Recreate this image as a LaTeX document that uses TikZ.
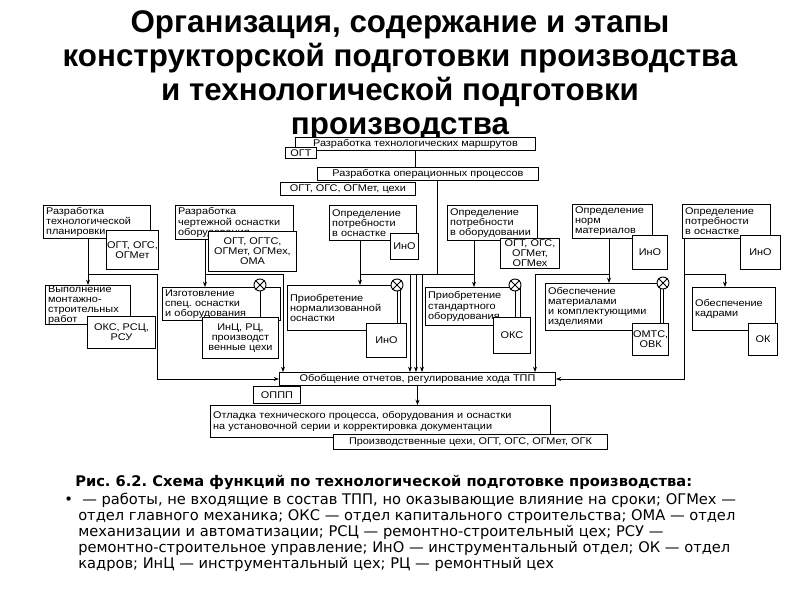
\documentclass[tikz,border=0pt]{standalone}
\usepackage{fontspec}
\setmainfont{Liberation Sans}
\newfontfamily\diagfont[FakeStretch=1.12]{Liberation Sans}
\newfontfamily\captfont{DejaVu Sans}
\usepackage{tikz}
\usetikzlibrary{arrows.meta, calc}
\frenchspacing

\begin{document}
\begin{tikzpicture}[
  x=0.75pt, y=-0.75pt,
  funcbox/.style={draw, fill=white, line width=0.7pt, anchor=north west, inner xsep=2pt, inner ysep=0pt, align=left, font=\diagfont\fontsize{7.3}{7.6}\selectfont},
  deptbox/.style={draw, fill=white, line width=0.7pt, anchor=north west, inner sep=0.5pt, align=center, font=\diagfont\fontsize{7.3}{7.6}\selectfont},
  mixcirc/.style={draw, circle, fill=white, line width=0.7pt, minimum size=9pt, inner sep=0pt},
  titleline/.style={font=\bfseries\fontsize{23.5}{25.5}\selectfont, anchor=base, inner sep=0pt},
  captline/.style={font=\captfont\fontsize{11}{12}\selectfont, inner sep=0pt},
  link/.style={line width=0.7pt},
  arr/.style={line width=0.7pt, -{Stealth[length=4pt, width=3pt]}},
]
\useasboundingbox (0,0) rectangle (800,600);

% Заголовок
\node[titleline] (t1) at (400,32) {Организация, содержание и этапы};
\node[titleline] (t2) at (400,66) {конструкторской подготовки производства};
\node[titleline] (t3) at (400,100) {и технологической подготовки};
\node[titleline] (t4) at (400,134) {производства};

% Маршруты и операционные процессы
\node[deptbox, minimum width=180pt, minimum height=9.75pt] (top1) at (295,137) {Разработка технологических маршрутов};
\node[deptbox, minimum width=23.25pt, minimum height=8.25pt] (ogt) at (285,147) {ОГТ};
\node[deptbox, minimum width=165.75pt, minimum height=9.75pt] (top2) at (317,167) {Разработка операционных процессов};
\node[deptbox, minimum width=101.25pt, minimum height=9.75pt] (sub2) at (280,182) {ОГТ, ОГС, ОГМет, цехи};

% Row 1
\node[funcbox, text width=76.25pt, minimum height=24.75pt] (r1a) at (43,205) {Разработка\\технологической\\планировки};
\node[deptbox, minimum width=39pt, minimum height=29.25pt] (s1a) at (106,230) {ОГТ, ОГС,\\ОГМет};
\node[funcbox, text width=84.5pt, minimum height=25.5pt] (r1b) at (175,205) {Разработка\\чертежной оснастки\\оборудования};
\node[deptbox, minimum width=66pt, minimum height=30pt] (s1b) at (208,231) {ОГТ, ОГТС,\\ОГМет, ОГМех,\\ОМА};
\node[funcbox, text width=61.25pt, minimum height=26.25pt] (r1c) at (329,205) {Определение\\потребности\\в оснастке};
\node[deptbox, minimum width=21pt, minimum height=19.5pt] (s1c) at (390,233) {ИнО};
\node[funcbox, text width=63.5pt, minimum height=26.25pt] (r1d) at (447,205) {Определение\\потребности\\в оборудовании};
\node[deptbox, minimum width=44.25pt, minimum height=22.5pt] (s1d) at (500,238) {ОГТ, ОГС,\\ОГМет,\\ОГМех};
\node[funcbox, text width=56pt, minimum height=25.5pt] (r1e) at (572,204) {Определение\\норм\\материалов};
\node[deptbox, minimum width=26.25pt, minimum height=25.5pt] (s1e) at (632,235) {ИнО};
\node[funcbox, text width=62pt, minimum height=25.5pt] (r1f) at (682,204) {Определение\\потребности\\в оснастке};
\node[deptbox, minimum width=30pt, minimum height=25.5pt] (s1f) at (740,235) {ИнО};

% Row 2
\node[funcbox, text width=59.75pt, minimum height=27.75pt] (r2a) at (45,285) {Выполнение\\монтажно-\\строительных\\работ};
\node[deptbox, minimum width=51pt, minimum height=24pt] (s2a) at (87,316) {ОКС, РСЦ,\\РСУ};
\node[funcbox, text width=84.5pt, minimum height=24.75pt] (r2b) at (162,287) {Изготовление\\спец. оснастки\\и оборудования};
\node[deptbox, minimum width=57pt, minimum height=30.75pt] (s2b) at (202,317) {ИнЦ, РЦ,\\производст\\венные цехи};
\node[funcbox, text width=80.75pt, minimum height=33.75pt] (r2c) at (287,285) {Приобретение\\нормализованной\\оснастки};
\node[deptbox, minimum width=30pt, minimum height=25.5pt] (s2c) at (366,323) {ИнО};
\node[funcbox, text width=67.25pt, minimum height=28.5pt] (r2d) at (425,287) {Приобретение\\стандартного\\оборудования};
\node[deptbox, minimum width=27.75pt, minimum height=27pt] (s2d) at (493,317) {ОКС};
\node[funcbox, text width=82.25pt, minimum height=35.25pt] (r2e) at (545,283) {Обеспечение\\материалами\\и комплектующими\\изделиями};
\node[deptbox, minimum width=27pt, minimum height=24pt] (s2e) at (632,323) {ОМТС,\\ОВК};
\node[funcbox, text width=58.25pt, minimum height=32.25pt] (r2f) at (692,287) {Обеспечение\\кадрами};
\node[deptbox, minimum width=21.75pt, minimum height=24pt] (s2f) at (748,323) {ОК};

% Обобщение и отладка
\node[deptbox, minimum width=207pt, minimum height=9.75pt] (gen) at (279,372) {Обобщение отчетов, регулирование хода ТПП};
\node[deptbox, minimum width=35.25pt, minimum height=12.75pt] (oppp) at (253,386) {ОППП};
\node[funcbox, text width=251pt, minimum height=24pt] (otl) at (210,405) {Отладка технического процесса, оборудования и оснастки\\на установочной серии и корректировка документации};
\node[deptbox, minimum width=205.5pt, minimum height=11.25pt] (prod) at (333,434) {Производственные цехи, ОГТ, ОГС, ОГМет, ОГК};

% Точки шины
\coordinate (d1) at (88,274);  \coordinate (e1) at (157,274);
\coordinate (d2) at (205,274); \coordinate (e2) at (283,274);
\coordinate (d3) at (360,274); \coordinate (e3) at (410,274);
\coordinate (f1) at (416,274); \coordinate (f2) at (422,274);
\coordinate (m)  at (437,274); \coordinate (d4) at (474,274);
\coordinate (e5) at (535,274); \coordinate (d5) at (609,274);
\coordinate (d6) at (684,274); \coordinate (e6) at (725,274);

% Связи
\draw[link] (top1.south) -- (top1.south |- top2.north);
\draw[link] (top2.south -| m) -- (m) -- (e3);
\draw[link] (d1) -- (e1);
\draw[link] (d2) -- (e2);
\draw[link] (d3) -- (e3);
\draw[link] (d4) -- (m);
\draw[link] (e5) -- (d5);
\draw[link] (d6) -- (e6);
\foreach \d/\a/\b in {d1/r1a/r2a, d2/r1b/r2b, d3/r1c/r2c, d4/r1d/r2d, d5/r1e/r2e} {
  \draw[link] (\a.south -| \d) -- (\d);
  \draw[arr] (\d) -- (\d |- \b.north);
}
\draw[link] (r1f.south -| d6) -- (d6);
\draw[arr] (e6) -- (e6 |- r2f.north);
\foreach \p in {e2, e3, f1, f2, e5} {
  \draw[arr] (\p) -- (\p |- gen.north);
}
\draw[arr] (e1) |- (gen.west);
\draw[arr] (d6) |- (gen.east);
\draw[arr] (gen.south) -- (gen.south |- otl.north);

% Работы вне ТПП
\node[mixcirc] (c2b) at (260,285) {};
\node[mixcirc] (c2c) at (397,285) {};
\node[mixcirc] (c2d) at (515,285) {};
\node[mixcirc] (c2e) at (663,283) {};
\foreach \c/\s in {c2b/s2b, c2c/s2c, c2d/s2d, c2e/s2e} {
  \draw[link] (\c.south) -- (\c.south |- \s.north);
  \draw[link] (\c.north east) -- (\c.south west) (\c.north west) -- (\c.south east);
}

% Подпись
\node[captline, font=\captfont\bfseries\fontsize{11}{12}\selectfont, anchor=base west] (capt) at (75,486) {Рис. 6.2. Схема функций по технологической подготовке производства:};
\node[captline, anchor=base west] (bull) at (64,504) {•};
\node[captline, anchor=north west, align=left] (legend) at (78,493) {\hspace{3pt}— работы, не входящие в состав ТПП, но оказывающие влияние на сроки; ОГМех —\\отдел главного механика; ОКС — отдел капитального строительства; ОМА — отдел\\механизации и автоматизации; РСЦ — ремонтно-строительный цех; РСУ —\\ремонтно-строительное управление; ИнО — инструментальный отдел; ОК — отдел\\кадров; ИнЦ — инструментальный цех; РЦ — ремонтный цех};

\end{tikzpicture}
\end{document}
